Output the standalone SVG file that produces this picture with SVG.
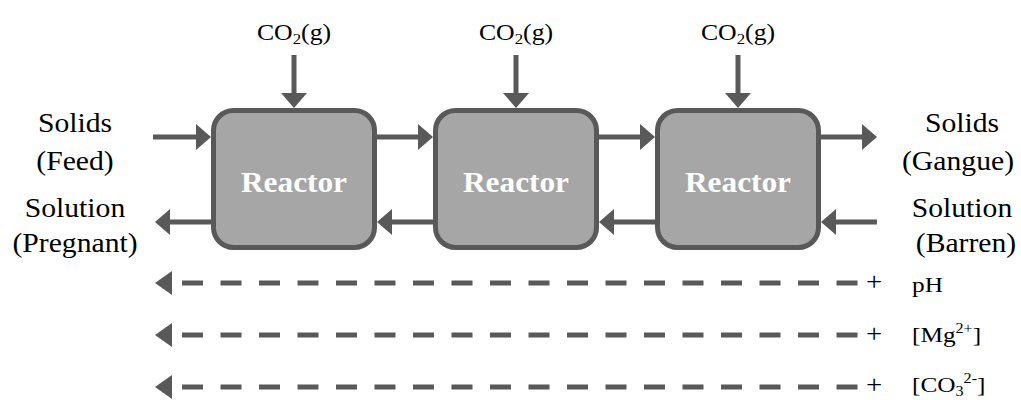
<svg xmlns="http://www.w3.org/2000/svg" width="1021" height="400" viewBox="0 0 1021 400">
<style>
.box{fill:#a6a6a6;stroke:#595959;stroke-width:5}
.ln{stroke:#595959;stroke-width:5;fill:none}
.dash{stroke:#595959;stroke-width:5;fill:none;stroke-dasharray:21 17.5}
text{font-family:"Liberation Serif","Times New Roman",serif;fill:#000}
.side{font-size:28px;text-anchor:middle}
.co{font-size:23px;text-anchor:middle}
.lab{font-size:22px}
.rx{font-weight:bold;font-size:29px;fill:#fff;text-anchor:middle}
.plus{font-size:25px;text-anchor:middle}
</style>
<defs>
<marker id="ah" viewBox="0 0 15 26" refX="0" refY="13" markerWidth="15" markerHeight="26" markerUnits="userSpaceOnUse" orient="auto">
<path d="M0,0 L15,13 L0,26 z" fill="#595959"/>
</marker>
</defs>

<g id="connectors">
<line class="ln" x1="294" y1="55" x2="294" y2="93" marker-end="url(#ah)"/>
<line class="ln" x1="516" y1="55" x2="516" y2="93" marker-end="url(#ah)"/>
<line class="ln" x1="738" y1="55" x2="738" y2="93" marker-end="url(#ah)"/>
<line class="ln" x1="153" y1="137" x2="196" y2="137" marker-end="url(#ah)"/>
<line class="ln" x1="377" y1="137" x2="418" y2="137" marker-end="url(#ah)"/>
<line class="ln" x1="599" y1="137" x2="640" y2="137" marker-end="url(#ah)"/>
<line class="ln" x1="821" y1="137" x2="862" y2="137" marker-end="url(#ah)"/>
<line class="ln" x1="877" y1="222" x2="836" y2="222" marker-end="url(#ah)"/>
<line class="ln" x1="655" y1="222" x2="614" y2="222" marker-end="url(#ah)"/>
<line class="ln" x1="433" y1="222" x2="392" y2="222" marker-end="url(#ah)"/>
<line class="ln" x1="211" y1="222" x2="170" y2="222" marker-end="url(#ah)"/>
<line class="dash" x1="182" y1="283" x2="858" y2="283"/>
<path d="M172,271 L155,283 L172,295 z" fill="#595959"/>
<line class="dash" x1="182" y1="335" x2="858" y2="335"/>
<path d="M172,323 L155,335 L172,347 z" fill="#595959"/>
<line class="dash" x1="182" y1="387" x2="858" y2="387"/>
<path d="M172,375 L155,387 L172,399 z" fill="#595959"/>
<text class="plus" transform="matrix(1.15 0 0 1 874 290)">+</text>
<text class="plus" transform="matrix(1.15 0 0 1 874 342)">+</text>
<text class="plus" transform="matrix(1.15 0 0 1 874 393)">+</text>
</g>

<g id="reactor1">
<rect class="box" x="213.5" y="110.5" width="161" height="137" rx="20"/>
<text class="rx" transform="matrix(1.08 0 0 1 294 192)">Reactor</text>
</g>
<g id="reactor2">
<rect class="box" x="435.5" y="110.5" width="161" height="137" rx="20"/>
<text class="rx" transform="matrix(1.08 0 0 1 516 192)">Reactor</text>
</g>
<g id="reactor3">
<rect class="box" x="657.5" y="110.5" width="161" height="137" rx="20"/>
<text class="rx" transform="matrix(1.08 0 0 1 738 192)">Reactor</text>
</g>

<g id="co2-labels">
<text class="co" transform="matrix(1.12 0 0 1 294 40)">CO<tspan font-size="15" dy="4">2</tspan><tspan dy="-4">(g)</tspan></text>
<text class="co" transform="matrix(1.12 0 0 1 516 40)">CO<tspan font-size="15" dy="4">2</tspan><tspan dy="-4">(g)</tspan></text>
<text class="co" transform="matrix(1.12 0 0 1 738 40)">CO<tspan font-size="15" dy="4">2</tspan><tspan dy="-4">(g)</tspan></text>
</g>

<g id="left-labels">
<text class="side" transform="matrix(1.06 0 0 1 75 132)">Solids</text>
<text class="side" transform="matrix(1.06 0 0 1 75 170)">(Feed)</text>
<text class="side" transform="matrix(1.06 0 0 1 75 217)">Solution</text>
<text class="side" transform="matrix(1.06 0 0 1 75 252)">(Pregnant)</text>
</g>

<g id="right-labels">
<text class="side" transform="matrix(1.06 0 0 1 962 132)">Solids</text>
<text class="side" transform="matrix(1.06 0 0 1 958 170)">(Gangue)</text>
<text class="side" transform="matrix(1.06 0 0 1 962 217)">Solution</text>
<text class="side" transform="matrix(1.06 0 0 1 966 252)">(Barren)</text>
</g>

<g id="gradient-labels">
<text class="lab" transform="matrix(1.15 0 0 1 912 292)">pH</text>
<text class="lab" transform="matrix(1.15 0 0 1 912 342)">[Mg<tspan font-size="14" dy="-9">2+</tspan><tspan dy="9">]</tspan></text>
<text class="lab" transform="matrix(1.15 0 0 1 912 392)">[CO<tspan font-size="14" dy="4">3</tspan><tspan font-size="14" dy="-13">2-</tspan><tspan dy="9">]</tspan></text>
</g>
</svg>
